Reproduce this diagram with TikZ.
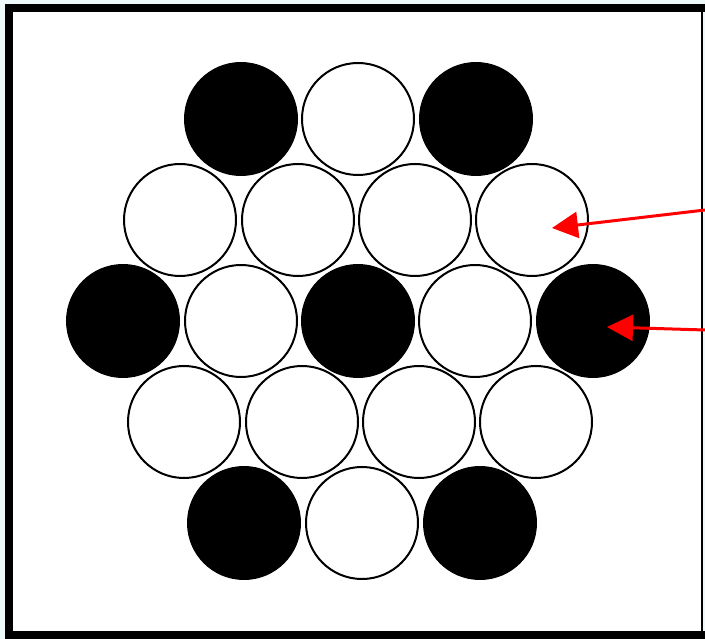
\documentclass[tikz,border=0pt]{standalone}
\usepackage{tikz}
\usetikzlibrary{arrows.meta}
\definecolor{paleback}{HTML}{EEF9F9}
\definecolor{pointred}{HTML}{FF0000}

\begin{document}
\begin{tikzpicture}[x=1pt, y=-1pt,
    ball/.style={circle, draw, line width=2pt, minimum size=112pt, inner sep=0, fill=white},
    dark/.style={ball, fill=black},
    pointer/.style={pointred, line width=3pt, -{Triangle[length=26pt, width=26pt]}}
]
\useasboundingbox (0,0) rectangle (705,639);
% Frame
\fill[paleback] (0,0) rectangle (705,639);
\fill[white] (9,8) rectangle (702,635);
\draw[line width=8pt] (9,4) -- (9,639);
\draw[line width=8pt] (5,8) -- (705,8);
\draw[line width=8pt] (5,635) -- (705,635);
\draw[line width=2pt] (702,12) -- (702,631);

% Row 1
\node[dark] (c11) at (241,119) {};
\node[ball] (c12) at (358,119) {};
\node[dark] (c13) at (476,119) {};
% Row 2
\node[ball] (c21) at (180,220) {};
\node[ball] (c22) at (298,220) {};
\node[ball] (c23) at (415,220) {};
\node[ball] (c24) at (532,220) {};
% Row 3
\node[dark] (c31) at (123,321) {};
\node[ball] (c32) at (241,321) {};
\node[dark] (c33) at (358,321) {};
\node[ball] (c34) at (475,321) {};
\node[dark] (c35) at (593,321) {};
% Row 4
\node[ball] (c41) at (184,422) {};
\node[ball] (c42) at (302,422) {};
\node[ball] (c43) at (419,422) {};
\node[ball] (c44) at (536,422) {};
% Row 5
\node[dark] (c51) at (244,523) {};
\node[ball] (c52) at (362,523) {};
\node[dark] (c53) at (480,523) {};

% Pointers
\coordinate (p1) at (705,210);
\coordinate (t1) at (552,228);
\coordinate (p2) at (705,330);
\coordinate (t2) at (607,327);
\draw[pointer] (p1) -- (t1);
\draw[pointer] (p2) -- (t2);
\end{tikzpicture}
\end{document}
